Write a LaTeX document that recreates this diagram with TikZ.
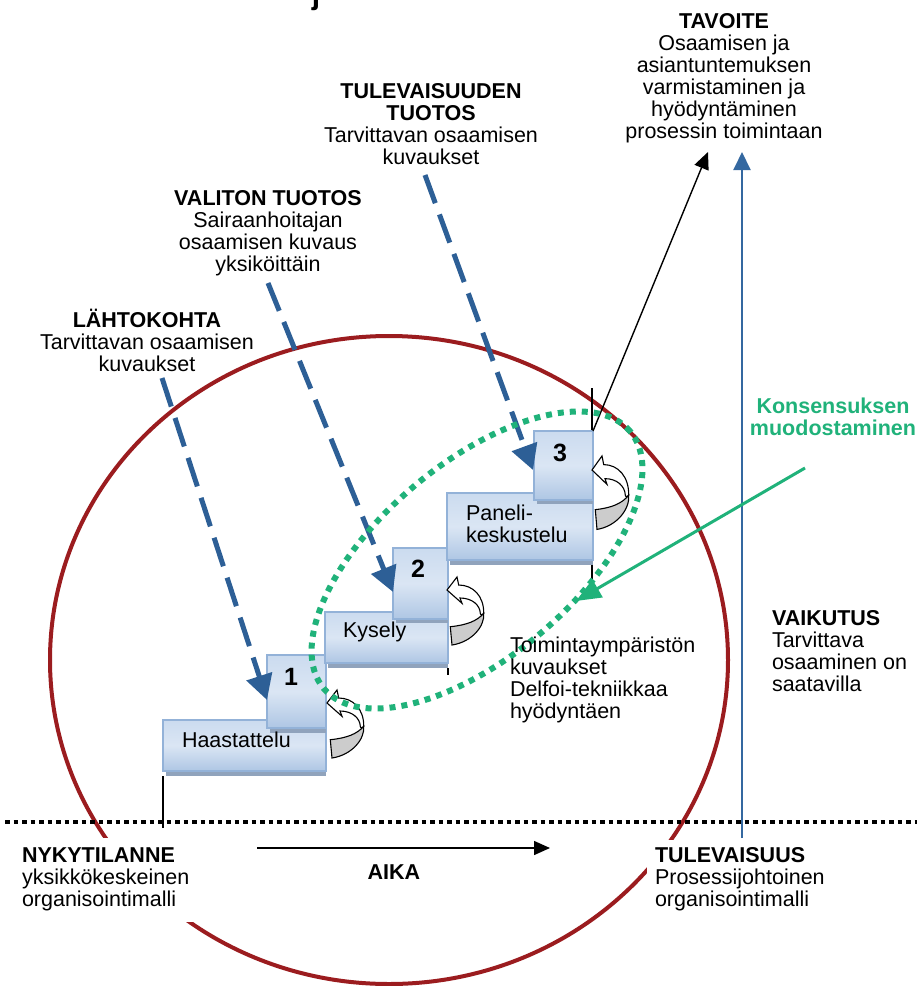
\documentclass[tikz,border=0pt]{standalone}
\usepackage{fontspec}
\setmainfont{Liberation Sans}
\usetikzlibrary{arrows.meta,calc}

\definecolor{ringred}{HTML}{9B1C1F}
\definecolor{dashblue}{HTML}{2D5F96}
\definecolor{lineblue}{HTML}{3468A0}
\definecolor{consgreen}{HTML}{20B27A}
\definecolor{boxedge}{HTML}{93B2D8}
\definecolor{boxtop}{HTML}{CBDBEF}
\definecolor{boxbot}{HTML}{AEC6E4}
\definecolor{boxshade}{HTML}{90A3BC}
\definecolor{turngray}{HTML}{CCCCCC}

% multi-line text block whose baseline is the first line's baseline
\newcommand{\txtblock}[2][c]{\begin{tabular}[t]{@{}#1@{}}#2\end{tabular}}

\tikzset{
  stepbox/.style={draw=boxedge, line width=1.5pt, top color=boxtop, bottom color=boxbot,
    middle color=boxtop!70!white, anchor=north west},
  shadestrip/.style={fill=boxshade},
  dasharrow/.style={draw=dashblue, line width=5pt, dash pattern=on 30pt off 12pt,
    -{Triangle[length=25pt,width=26pt]}},
  stepnum/.style={font=\bfseries\fontsize{25}{25}\selectfont, anchor=base},
  turnarrow/.pic={
    \filldraw[fill=turngray, draw=black, line width=1.1pt]
      (3.3,36.7) .. controls (20,35) and (30,31) .. (36.7,23.3)
      .. controls (38,36) and (25,52) .. (5,55) -- cycle;
    \filldraw[fill=white, draw=black, line width=1.1pt]
      (0,0) -- (10,-13) -- (11.7,-5)
      .. controls (26,-5) and (37,6) .. (36.7,23.3)
      .. controls (34,26) and (33,24) .. (33.3,23.3)
      .. controls (33,15) and (25,8) .. (13,8) -- (15,13.3) -- cycle;
  }
}

\begin{document}
\begin{tikzpicture}[x=1pt, y=-1pt,
  every node/.style={inner sep=0pt, outer sep=0pt, font=\fontsize{21.5}{22}\selectfont}]
\useasboundingbox (0,0) rectangle (921,986);

% cropped heading letter at the top edge
\node[anchor=base, font=\bfseries\fontsize{30}{30}\selectfont] (topj) at (316,4) {j};

% the organisation ring
\draw[ringred, line width=4pt] (389,660) ellipse[x radius=339pt, y radius=324pt];

% time line between present and future
\coordinate (dotL) at (5,822);
\coordinate (dotR) at (917,822);
\draw[black, line width=4.5pt, dash pattern=on 4.5pt off 4pt] (dotL) -- (dotR);

% impact arrow
\coordinate (impBase) at (742,838);
\coordinate (impTip) at (742,152);
\draw[lineblue, line width=2pt, -{Triangle[length=18pt,width=17pt]}] (impBase) -- (impTip);

% step outlines
\coordinate (edgeA) at (163,776);
\coordinate (edgeA2) at (163,828);
\draw[line width=1.2pt] (edgeA) -- (edgeA2);
\coordinate (edgeB) at (448,668);
\coordinate (edgeB2) at (448,675);
\draw[line width=1.2pt] (edgeB) -- (edgeB2);
\coordinate (edgeC) at (592,562);
\coordinate (edgeC2) at (592,579);
\draw[line width=1.2pt] (edgeC) -- (edgeC2);
\coordinate (edgeD) at (592,388);
\coordinate (edgeD2) at (592,431);
\draw[line width=1.2pt] (edgeD) -- (edgeD2);

% steps: Haastattelu / 1
\fill[shadestrip] (166,768) rectangle (326,776);
\node[stepbox, minimum width=163pt, minimum height=51pt] (haast) at (163,720) {};
\fill[shadestrip] (270,724) rectangle (326,733);
\node[stepbox, minimum width=59pt, minimum height=73pt] (one) at (267,655) {};

% Kysely / 2
\fill[shadestrip] (328,660) rectangle (448,668);
\node[stepbox, minimum width=123pt, minimum height=51pt] (kys) at (325,612) {};
\fill[shadestrip] (396,615) rectangle (448,623);
\node[stepbox, minimum width=55pt, minimum height=71pt] (two) at (393,548) {};

% Paneelikeskustelu / 3
\fill[shadestrip] (450,557) rectangle (593,565);
\node[stepbox, minimum width=146pt, minimum height=67pt] (panel) at (447,493) {};
\fill[shadestrip] (537,496) rectangle (593,504);
\node[stepbox, minimum width=59pt, minimum height=69pt] (three) at (534,431) {};

% step texts
\node[stepnum] (n1) at (291,685) {1};
\node[stepnum] (n2) at (418,577) {2};
\node[stepnum] (n3) at (560,461) {3};
\node[anchor=base west] (t1) at (182,747) {Haastattelu};
\node[anchor=base west] (t2) at (343,637) {Kysely};
\node[anchor=base west] (t3) at (466,520) {\txtblock[l]{Paneli-\\keskustelu}};

% turning arrows beside the steps
\pic at (327,703) {turnarrow};
\pic at (447,590) {turnarrow};
\pic[yscale=1.08] at (592,470) {turnarrow};

% goal arrow
\coordinate (goalTip) at (708,152);
\draw[black, line width=1.4pt, -{Triangle[length=17pt,width=15pt]}] (three.north east) -- (goalTip);

% inputs
\coordinate (s1) at (162,378);
\coordinate (e1) at (267,700);
\coordinate (s2) at (268,283);
\coordinate (e2) at (393,592);
\coordinate (s3) at (425,175);
\coordinate (e3) at (533,470);
\draw[dasharrow] (s1) -- (e1);
\draw[dasharrow] (s2) -- (e2);
\draw[dasharrow] (s3) -- (e3);

% consensus zone
\draw[consgreen, line width=6pt, dash pattern=on 6pt off 6pt, rotate around={40:(477,560)}]
  (477,560) ellipse[x radius=200pt, y radius=97pt];
\coordinate (consS) at (805,468);
\coordinate (consE) at (576,601);
\draw[consgreen, line width=3pt, -{Triangle[length=25pt,width=20pt]}] (consS) -- (consE);

% labels
\node[anchor=base] (goal) at (724,28) {\txtblock{\textbf{TAVOITE}\\Osaamisen ja\\asiantuntemuksen\\varmistaminen ja\\hyödyntäminen\\prosessin toimintaan}};
\node[anchor=base] (futout) at (431,98) {\txtblock{\textbf{TULEVAISUUDEN}\\\textbf{TUOTOS}\\Tarvittavan osaamisen\\kuvaukset}};
\node[anchor=base] (direct) at (268,205) {\txtblock{\textbf{VALITON TUOTOS}\\Sairaanhoitajan\\osaamisen kuvaus\\yksiköittäin}};
\node[anchor=base] (start) at (147,327) {\txtblock{\textbf{LÄHTOKOHTA}\\Tarvittavan osaamisen\\kuvaukset}};
\node[anchor=base, text=consgreen] (cons) at (833,413) {\txtblock{\textbf{Konsensuksen}\\\textbf{muodostaminen}}};
\node[anchor=base west] (impact) at (772,625) {\txtblock[l]{\textbf{VAIKUTUS}\\Tarvittava\\osaaminen on\\saatavilla}};
\node[anchor=base west] (env) at (510,652) {\txtblock[l]{Toimintaympäristön\\kuvaukset\\Delfoi-tekniikkaa\\hyödyntäen}};
\node[anchor=base west, fill=white, inner xsep=8pt, inner ysep=9pt] (now) at (14,862) {\txtblock[l]{\textbf{NYKYTILANNE}\\yksikkökeskeinen\\organisointimalli}};
\node[anchor=base west, fill=white, inner xsep=8pt, inner ysep=7pt] (future) at (647,862) {\txtblock[l]{\textbf{TULEVAISUUS}\\Prosessijohtoinen\\organisointimalli}};
\node[anchor=base, font=\bfseries\fontsize{21.5}{22}\selectfont] (time) at (394,879) {AIKA};
\coordinate (timeS) at (257,848);
\coordinate (timeE) at (550,848);
\draw[black, line width=1.5pt, -{Triangle[length=16pt,width=14pt]}] (timeS) -- (timeE);
\end{tikzpicture}
\end{document}
